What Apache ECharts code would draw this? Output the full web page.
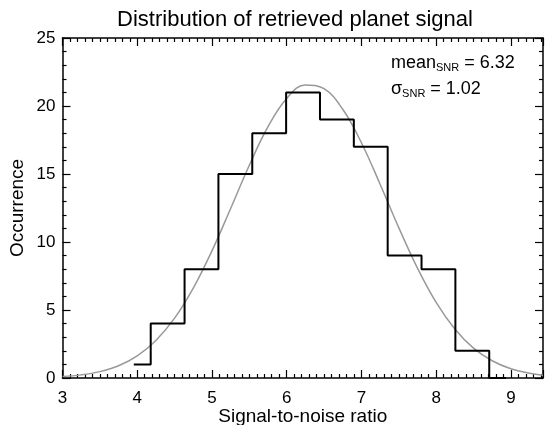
<!DOCTYPE html>
<html><head><meta charset="utf-8">
<script src="https://cdn.jsdelivr.net/npm/echarts@6/dist/echarts.min.js"></script>
<style>html,body{margin:0;padding:0;background:#fff}#c{width:546px;height:425px}</style>
</head><body><div id="c"></div>
<script>
// Histogram (bin centers and counts), drawn as IDL-style step line
const binCenters = [3.954, 4.407, 4.860, 5.313, 5.766, 6.219, 6.672, 7.125, 7.578, 8.031, 8.484, 8.937];
const binCounts  = [1, 4, 8, 15, 18, 21, 19, 17, 9, 8, 2, 0];
// Gaussian fit curve
const fitX = [3.0, 3.25, 3.5, 3.75, 4.0, 4.25, 4.5, 4.75, 5.0, 5.25, 5.5, 5.75, 6.0, 6.25, 6.5, 6.75, 7.0, 7.25, 7.5, 7.75, 8.0, 8.25, 8.5, 8.75, 9.0, 9.25, 9.43];
const fitY = [0.11, 0.23, 0.47, 0.90, 1.63, 2.76, 4.40, 6.61, 9.35, 12.46, 15.64, 18.48, 20.56, 21.55, 21.27, 19.76, 17.30, 14.25, 11.06, 8.08, 5.56, 3.61, 2.20, 1.27, 0.68, 0.35, 0.21];
const xTicks = [3, 4, 5, 6, 7, 8, 9];
const yTicks = [0, 5, 10, 15, 20, 25];
const xMax = 9.43;
const titleText = 'Distribution of retrieved planet signal';
const xName = 'Signal-to-noise ratio';
const yName = 'Occurrence';
const meanSNR = '6.32';
const sigmaSNR = '1.02';

const FONT = "'Liberation Sans', Arial, Helvetica, sans-serif";
const chart = echarts.init(document.getElementById('c'), null, {renderer: 'canvas'});

const axisCommonX = {
  type: 'value', min: xTicks[0], max: xMax, interval: xTicks[1] - xTicks[0],
  splitLine: {show: false},
  axisLine: {show: true, onZero: false, lineStyle: {color: '#000', width: 1.5}},
  axisTick: {show: true, inside: true, length: 8, lineStyle: {color: '#000', width: 1.2}},
  minorTick: {show: true, splitNumber: 10, length: 4, lineStyle: {color: '#000', width: 1.2}}
};
const axisCommonY = {
  type: 'value', min: yTicks[0], max: yTicks[yTicks.length - 1], interval: yTicks[1] - yTicks[0],
  splitLine: {show: false},
  axisLine: {show: true, onZero: false, lineStyle: {color: '#000', width: 1.5}},
  axisTick: {show: true, inside: true, length: 8, lineStyle: {color: '#000', width: 1.2}},
  minorTick: {show: true, splitNumber: 5, length: 4, lineStyle: {color: '#000', width: 1.2}}
};

const richStyles = {
  m: {fontFamily: FONT, fontSize: 18, color: '#000', fill: '#000'},
  s: {fontFamily: FONT, fontSize: 11, color: '#000', fill: '#000', verticalAlign: 'bottom', padding: [10, 0, 0, 0]}
};

chart.setOption({
  animation: false,
  backgroundColor: '#fff',
  textStyle: {fontFamily: FONT},
  title: {
    text: titleText, left: 290, top: 4, textAlign: 'center',
    textStyle: {fontFamily: FONT, fontSize: 22, fontWeight: 'normal', color: '#000'}
  },
  grid: {left: 62.5, right: 3, top: 38, bottom: 47, containLabel: false, outerBoundsMode: 'none'},
  xAxis: [
    Object.assign({}, axisCommonX, {
      position: 'bottom',
      name: xName, nameLocation: 'middle', nameGap: 29, nameMoveOverlap: false,
      nameTextStyle: {fontFamily: FONT, fontSize: 19, color: '#000'},
      axisLabel: {show: true, showMaxLabel: false, margin: 12, fontFamily: FONT, fontSize: 17, color: '#000'}
    }),
    Object.assign({}, axisCommonX, {position: 'top', axisLabel: {show: false}})
  ],
  yAxis: [
    Object.assign({}, axisCommonY, {
      position: 'left',
      name: yName, nameLocation: 'middle', nameGap: 35, nameRotate: 90, nameMoveOverlap: false,
      nameTextStyle: {fontFamily: FONT, fontSize: 19, color: '#000'},
      axisLabel: {show: true, margin: 7, fontFamily: FONT, fontSize: 17, color: '#000'}
    }),
    Object.assign({}, axisCommonY, {position: 'right', axisLabel: {show: false}})
  ],
  graphic: [
    {
      type: 'text', left: 391, top: 54,
      style: {text: '{m|mean}{s|SNR}{m| = ' + meanSNR + '}', rich: richStyles}
    },
    {
      type: 'text', left: 391, top: 80,
      style: {text: '{m|σ}{s|SNR}{m| = ' + sigmaSNR + '}', rich: richStyles}
    }
  ],
  series: [
    {
      type: 'line', xAxisIndex: 0, yAxisIndex: 0,
      data: binCenters.map((x, i) => [x, binCounts[i]]),
      step: 'middle', symbol: 'none',
      lineStyle: {color: '#000', width: 2}, z: 3
    },
    {
      type: 'line', xAxisIndex: 0, yAxisIndex: 0,
      data: fitX.map((x, i) => [x, fitY[i]]),
      smooth: 0.4, symbol: 'none',
      lineStyle: {color: '#999', width: 1.5}, z: 2
    }
  ]
});
</script></body></html>
